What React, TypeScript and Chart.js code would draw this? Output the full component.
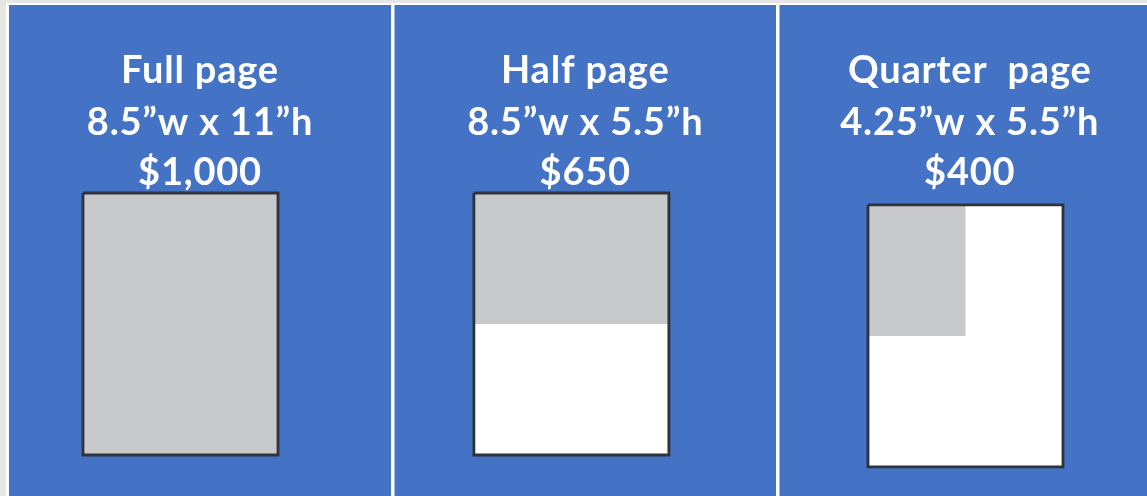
import { useEffect, useRef } from 'react';
import { Chart, registerables } from 'chart.js';

Chart.register(...registerables);

// ---- data ----
const AD_NAMES = ['Full page', 'Half page', 'Quarter  page'];
const AD_DIMENSION_LABELS = ['8.5”w x 11”h', '8.5”w x 5.5”h', '4.25”w x 5.5”h'];
const AD_PRICES = [1000, 650, 400];
const AD_WIDTHS_IN = [8.5, 8.5, 4.25];
const AD_HEIGHTS_IN = [11, 5.5, 5.5];
const PAGE_WIDTH_IN = 8.5;
const PAGE_HEIGHT_IN = 11;

// ---- layout (chart axes are in inches) ----
const PAGE_LEFT_IN = [0, 17.04, 34.22];
const PAGE_TOP_IN = [0, 0, 0.5];
const X_MIN = -3.618;
const X_MAX = 46.382;
const Y_MIN = -8.103;
const Y_MAX = 12.722;

const W = 1147;
const H = 496;
const BLUE = '#4472C4';
const GRAY = '#C8C9CB';
const EDGE = '#2E333B';
const PANELS: [number, number][] = [[9, 391], [394.5, 776], [779.5, 1160]];
const TEXT_BASELINES = [83, 135, 185];
const FONT = 'bold 38px Lato';

function rectPoints(left: number, top: number, w: number, h: number) {
  return [
    { x: left, y: top },
    { x: left + w, y: top },
    { x: left + w, y: top + h },
    { x: left, y: top + h },
    { x: left, y: top },
  ];
}

const fmtPrice = (v: number) => '$' + v.toLocaleString('en-US');

const backdropPlugin = {
  id: 'backdrop',
  beforeDraw(chart: any) {
    const ctx = chart.ctx;
    ctx.save();
    ctx.fillStyle = '#E6E6E6';
    ctx.fillRect(0, 0, W, H);
    ctx.fillStyle = '#FFFFFF';
    ctx.fillRect(6, 3, W - 6, H - 3);
    ctx.fillStyle = BLUE;
    PANELS.forEach(([a, b]) => ctx.fillRect(a, 5, b - a, H - 5));
    ctx.restore();
  },
  afterDraw(chart: any) {
    const ctx = chart.ctx;
    ctx.save();
    ctx.fillStyle = '#FFFFFF';
    ctx.font = FONT;
    (ctx as any).letterSpacing = '0.8px';
    ctx.textAlign = 'center';
    ctx.textBaseline = 'alphabetic';
    AD_NAMES.forEach((name, i) => {
      const cx = (PANELS[i][0] + PANELS[i][1]) / 2;
      const lines = [name, AD_DIMENSION_LABELS[i], fmtPrice(AD_PRICES[i])];
      lines.forEach((t, j) => ctx.fillText(t, cx, TEXT_BASELINES[j]));
    });
    ctx.restore();
  },
};

export default function App() {
  const ref = useRef<HTMLCanvasElement>(null);
  useEffect(() => {
    document.body.style.margin = '0';
    const outlines = AD_NAMES.map((name, i) => ({
      label: name + ' outline',
      data: rectPoints(PAGE_LEFT_IN[i], PAGE_TOP_IN[i], PAGE_WIDTH_IN, PAGE_HEIGHT_IN),
      showLine: true,
      fill: false,
      borderColor: EDGE,
      borderWidth: 2.8,
      borderJoinStyle: 'miter',
      backgroundColor: 'transparent',
      pointRadius: 0,
      tension: 0,
    }));
    const ads = AD_NAMES.map((name, i) => ({
      label: name,
      data: rectPoints(PAGE_LEFT_IN[i], PAGE_TOP_IN[i], AD_WIDTHS_IN[i], AD_HEIGHTS_IN[i]),
      showLine: true,
      fill: 'shape',
      borderColor: 'transparent',
      borderWidth: 0,
      backgroundColor: GRAY,
      pointRadius: 0,
      tension: 0,
    }));
    const pages = AD_NAMES.map((name, i) => ({
      label: name + ' page',
      data: rectPoints(PAGE_LEFT_IN[i], PAGE_TOP_IN[i], PAGE_WIDTH_IN, PAGE_HEIGHT_IN),
      showLine: true,
      fill: 'shape',
      borderColor: 'transparent',
      borderWidth: 0,
      backgroundColor: '#FFFFFF',
      pointRadius: 0,
      tension: 0,
    }));
    const chart = new Chart(ref.current as HTMLCanvasElement, {
      type: 'scatter',
      data: { datasets: [...outlines, ...ads, ...pages] as any },
      options: {
        animation: false,
        responsive: false,
        devicePixelRatio: 1,
        layout: { padding: 0 },
        events: [],
        scales: {
          x: { type: 'linear', min: X_MIN, max: X_MAX, display: false },
          y: { type: 'linear', min: Y_MIN, max: Y_MAX, reverse: true, display: false },
        },
        plugins: {
          legend: { display: false },
          tooltip: { enabled: false },
          title: { display: false },
        },
      },
      plugins: [backdropPlugin],
    });
    return () => chart.destroy();
  }, []);
  return (
    <div style={{ width: W, height: H }}>
      <canvas ref={ref} width={W} height={H} style={{ display: 'block', width: W, height: H }} />
    </div>
  );
}
